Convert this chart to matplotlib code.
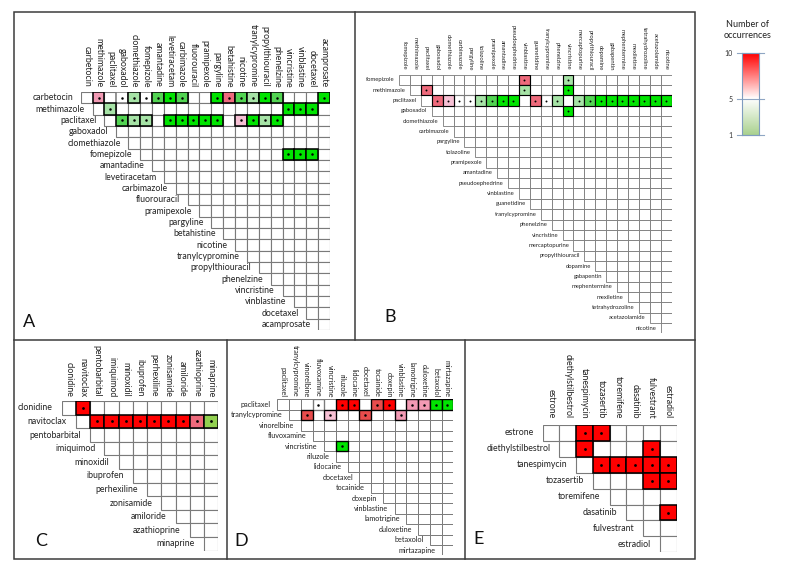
import matplotlib
matplotlib.use("Agg")
import matplotlib.pyplot as plt
import numpy as np
from matplotlib.colors import ListedColormap, BoundaryNorm, LinearSegmentedColormap
from matplotlib.patches import Rectangle

plt.rcParams['font.family'] = ['Lato', 'DejaVu Sans']

# ---- data: drug lists and co-occurrence hits (row drug, column drug, count) ----
A_drugs = ["carbetocin", "methimazole", "paclitaxel", "gaboxadol", "clomethiazole",
           "fomepizole", "amantadine", "levetiracetam", "carbimazole", "fluorouracil",
           "pramipexole", "pargyline", "betahistine", "nicotine", "tranylcypromine",
           "propylthiouracil", "phenelzine", "vincristine", "vinblastine", "docetaxel",
           "acamprosate"]
A_hits = [("carbetocin", "methimazole", 7), ("carbetocin", "gaboxadol", 5),
          ("carbetocin", "clomethiazole", 4), ("carbetocin", "fomepizole", 5),
          ("carbetocin", "amantadine", 2), ("carbetocin", "levetiracetam", 1),
          ("carbetocin", "carbimazole", 2), ("carbetocin", "pargyline", 1),
          ("carbetocin", "betahistine", 8), ("carbetocin", "nicotine", 2),
          ("carbetocin", "tranylcypromine", 4), ("carbetocin", "propylthiouracil", 1),
          ("carbetocin", "phenelzine", 2), ("carbetocin", "acamprosate", 1),
          ("methimazole", "paclitaxel", 4), ("methimazole", "vincristine", 1),
          ("methimazole", "vinblastine", 1), ("methimazole", "docetaxel", 1),
          ("paclitaxel", "gaboxadol", 2), ("paclitaxel", "clomethiazole", 4),
          ("paclitaxel", "fomepizole", 4), ("paclitaxel", "levetiracetam", 1),
          ("paclitaxel", "carbimazole", 1), ("paclitaxel", "fluorouracil", 1),
          ("paclitaxel", "pramipexole", 1), ("paclitaxel", "pargyline", 1),
          ("paclitaxel", "nicotine", 6), ("paclitaxel", "tranylcypromine", 1),
          ("paclitaxel", "propylthiouracil", 4), ("paclitaxel", "phenelzine", 1),
          ("fomepizole", "vincristine", 1), ("fomepizole", "vinblastine", 1),
          ("fomepizole", "docetaxel", 1)]

B_drugs = ["fomepizole", "methimazole", "paclitaxel", "gaboxadol", "clomethiazole",
           "carbimazole", "pargyline", "tolazoline", "pramipexole", "amantadine",
           "pseudoephedrine", "vinblastine", "guanetidine", "tranylcypromine", "phenelzine",
           "vincristine", "mercaptopurine", "propylthiouracil", "dopamine", "gabapentin",
           "mephentermine", "mexiletine", "tetrahydrozoline", "acetazolamide", "nicotine"]
B_hits = [("fomepizole", "vinblastine", 8), ("fomepizole", "vincristine", 4),
          ("methimazole", "paclitaxel", 8), ("methimazole", "vinblastine", 4),
          ("methimazole", "vincristine", 1),
          ("paclitaxel", "gaboxadol", 8), ("paclitaxel", "clomethiazole", 6),
          ("paclitaxel", "carbimazole", 5), ("paclitaxel", "pargyline", 5),
          ("paclitaxel", "tolazoline", 4), ("paclitaxel", "pramipexole", 2),
          ("paclitaxel", "amantadine", 1), ("paclitaxel", "pseudoephedrine", 1),
          ("paclitaxel", "guanetidine", 8), ("paclitaxel", "tranylcypromine", 5),
          ("paclitaxel", "phenelzine", 4), ("paclitaxel", "mercaptopurine", 4),
          ("paclitaxel", "propylthiouracil", 2), ("paclitaxel", "dopamine", 1),
          ("paclitaxel", "gabapentin", 1), ("paclitaxel", "mephentermine", 1),
          ("paclitaxel", "mexiletine", 1), ("paclitaxel", "tetrahydrozoline", 1),
          ("paclitaxel", "acetazolamide", 1), ("paclitaxel", "nicotine", 1),
          ("gaboxadol", "vincristine", 1)]

C_drugs = ["clonidine", "navitoclax", "pentobarbital", "imiquimod", "minoxidil",
           "ibuprofen", "perhexiline", "zonisamide", "amiloride", "azathioprine", "minaprine"]
C_hits = [("clonidine", "navitoclax", 10), ("navitoclax", "pentobarbital", 10),
          ("navitoclax", "imiquimod", 10), ("navitoclax", "minoxidil", 10),
          ("navitoclax", "ibuprofen", 10), ("navitoclax", "perhexiline", 10),
          ("navitoclax", "zonisamide", 10), ("navitoclax", "amiloride", 10),
          ("navitoclax", "azathioprine", 8), ("navitoclax", "minaprine", 3)]

D_drugs = ["paclitaxel", "tranylcypromine", "vinorelbine", "fluvoxamine", "vincristine",
           "riluzole", "lidocaine", "docetaxel", "tocainide", "doxepin", "vinblastine",
           "lamotrigine", "duloxetine", "betaxolol", "mirtazapine"]
D_hits = [("paclitaxel", "fluvoxamine", 5), ("paclitaxel", "riluzole", 10),
          ("paclitaxel", "lidocaine", 10), ("paclitaxel", "tocainide", 9),
          ("paclitaxel", "doxepin", 10), ("paclitaxel", "lamotrigine", 7),
          ("paclitaxel", "duloxetine", 7), ("paclitaxel", "betaxolol", 1),
          ("paclitaxel", "mirtazapine", 1),
          ("tranylcypromine", "vinorelbine", 9), ("tranylcypromine", "vincristine", 6),
          ("tranylcypromine", "docetaxel", 9), ("tranylcypromine", "vinblastine", 7),
          ("vincristine", "riluzole", 1)]

E_drugs = ["estrone", "diethylstilbestrol", "tanespimycin", "tozasertib", "toremifene",
           "dasatinib", "fulvestrant", "estradiol"]
E_hits = [("estrone", "tanespimycin", 10), ("estrone", "tozasertib", 10),
          ("diethylstilbestrol", "tanespimycin", 10), ("diethylstilbestrol", "fulvestrant", 10),
          ("tanespimycin", "tozasertib", 10), ("tanespimycin", "toremifene", 10),
          ("tanespimycin", "dasatinib", 10), ("tanespimycin", "fulvestrant", 10),
          ("tanespimycin", "estradiol", 10), ("tozasertib", "fulvestrant", 10),
          ("tozasertib", "estradiol", 10), ("dasatinib", "estradiol", 10)]

# cell colours per count (1..10)
cell_colors = ['#00e400', '#52d452', '#92d050', '#a6e3a6', '#ffffff',
               '#f6c0d4', '#f29ab4', '#ee6a7c', '#e84c4c', '#ff0000']
cell_cmap = ListedColormap(cell_colors)
cell_norm = BoundaryNorm(np.arange(0.5, 11.5, 1), cell_cmap.N)

W, H = 786, 567
fig = plt.figure(figsize=(W / 100, H / 100), dpi=100)


def px_axes(x0, y0, x1, y1):
    return fig.add_axes([x0 / W, 1 - y1 / H, (x1 - x0) / W, (y1 - y0) / H])


# panel frames
frame = fig.add_axes([0, 0, 1, 1])
frame.set_xlim(0, W)
frame.set_ylim(H, 0)
frame.axis('off')
fc = '#3c3c3c'
frame.add_patch(Rectangle((14, 12), 681, 547, fill=False, ec=fc, lw=1.1))
frame.plot([14, 695], [340, 340], color=fc, lw=1.1)
frame.plot([355, 355], [12, 340], color=fc, lw=1.1)
frame.plot([227, 227], [340, 559], color=fc, lw=1.1)
frame.plot([465, 465], [340, 559], color=fc, lw=1.1)


def draw_panel(box, drugs, hits, fs, ms, row_gap, col_gap, grid_lw):
    ax = px_axes(*box)
    n = len(drugs)
    ax.set_xlim(0, n)
    ax.set_ylim(n, 0)
    ax.axis('off')
    idx = {d: i for i, d in enumerate(drugs)}
    vals = np.zeros((n, n))
    for a, b, v in hits:
        vals[idx[a], idx[b]] = v
    # plain grid first
    for i in range(n):
        for j in range(i, n):
            ax.add_patch(Rectangle((j, i), 1, 1, fc='white', ec='#7a7a7a',
                                   lw=grid_lw, zorder=1))
    # filled cells on top
    for i in range(n):
        for j in range(i, n):
            v = vals[i, j]
            if v == 0:
                continue
            ec = '#7a7a7a' if v == 5 else 'black'
            ax.add_patch(Rectangle((j, i), 1, 1, fc=cell_cmap(cell_norm(v)), ec=ec,
                                   lw=grid_lw * 1.4, zorder=2 if v == 5 else 3))
            ax.plot(j + 0.5, i + 0.5, 'o', color='black', ms=ms, mew=0, zorder=4)
    for k, d in enumerate(drugs):
        ax.annotate(d, (k, k + 0.5), xytext=(-row_gap, 0), textcoords='offset points',
                    ha='right', va='center', fontsize=fs, color='#222222')
        ax.annotate(d, (k + 0.5, 0), xytext=(0, col_gap), textcoords='offset points',
                    ha='center', va='bottom', rotation=270, fontsize=fs, color='#222222')
    return ax


draw_panel((80.7, 92, 330, 330), A_drugs, A_hits, 6.3, 1.8, 5.5, 3.5, 0.8)
draw_panel((399, 74.7, 671.5, 333.3), B_drugs, B_hits, 4.2, 1.4, 3, 3.3, 0.6)
draw_panel((61.7, 401, 218.3, 550.7), C_drugs, C_hits, 6.3, 2.0, 6.5, 3.0, 0.8)
draw_panel((277.3, 399.3, 453.3, 555.3), D_drugs, D_hits, 5.2, 1.8, 4.5, 1.5, 0.7)
draw_panel((542.7, 425, 676.7, 552.3), E_drugs, E_hits, 6.3, 2.0, 6.5, 4.8, 0.8)

# panel letters
for letter, (x, y) in zip("ABCDE", [(29, 322), (390, 317), (41, 541), (241, 541), (479, 539)]):
    fig.text(x / W, 1 - y / H, letter, fontsize=13, ha='center', va='center', color='#111111')

# legend bar
legend_cmap = LinearSegmentedColormap.from_list(
    'occ', [(0, '#a9d18e'), (4 / 9, '#ffffff'), (1, '#ff0000')])
cax = px_axes(742.3, 53.3, 759.3, 135)
grad = np.linspace(1, 10, 256).reshape(-1, 1)
cax.imshow(grad, extent=[0, 1, 1, 10], origin='lower', aspect='auto', cmap=legend_cmap)
cax.set_xlim(0, 1)
cax.set_ylim(1, 10)
cax.set_xticks([])
cax.set_yticks([1, 5, 10])
cax.tick_params(axis='y', length=0, pad=7, labelsize=5, labelcolor='#333333')
for s in cax.spines.values():
    s.set_color('#7f9cbf')
    s.set_linewidth(0.8)
for t in [1, 5, 10]:
    cax.axhline(t, xmin=-0.3, xmax=1.3, color='#8fa6c4', lw=0.8, clip_on=False)
fig.text(748 / W, 1 - 30 / H, 'Number of\noccurrences', ha='center', va='center',
         fontsize=6.5, color='#222222', linespacing=1.4)

fig.savefig('out.png', dpi=100)
